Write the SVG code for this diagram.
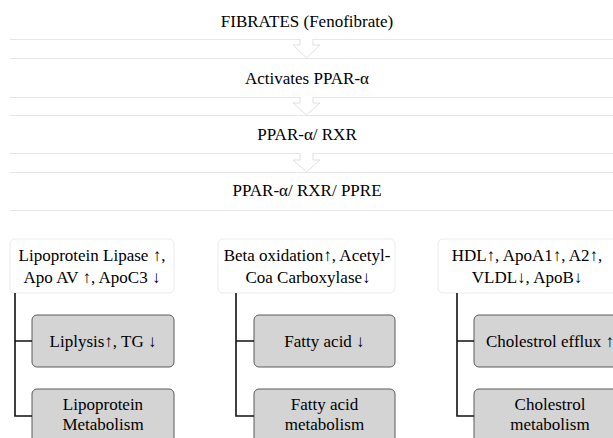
<svg xmlns="http://www.w3.org/2000/svg" width="613" height="438" viewBox="0 0 613 438">
<style>
text{font-family:"Liberation Serif","Times New Roman",serif;font-size:17px;fill:#000;text-anchor:middle}
.band{fill:none;stroke:#e6e6e6;stroke-width:1}
.arrow{fill:#fff;stroke:#e0e0e0;stroke-width:1}
.wbox{fill:#fff;stroke:#ebebeb;stroke-width:1}
.gbox{fill:#d4d4d4;stroke:#5a5a5a;stroke-width:1}
.conn{fill:none;stroke:#111;stroke-width:1.6}
</style>
<rect width="613" height="438" fill="#fff"/>
<g id="n1"><path class="band" d="M10,39.5 H613"/><text x="307" y="27">FIBRATES (Fenofibrate)</text></g>
<g id="n2"><path class="band" d="M10,58.5 H613 M10,97.5 H613"/><text x="307" y="84">Activates PPAR-α</text></g>
<g id="n3"><path class="band" d="M10,115.5 H613 M10,153.5 H613"/><text x="307" y="140">PPAR-α/ RXR</text></g>
<g id="n4"><path class="band" d="M10,172.5 H613 M10,210.5 H613"/><text x="307" y="196">PPAR-α/ RXR/ PPRE</text></g>
<g id="arrows">
<path class="arrow" d="M300,39 V45 H293 L306.5,58 L320,45 H313 V39"/>
<path class="arrow" d="M300,97 V103 H293 L306.5,115 L320,103 H313 V97"/>
<path class="arrow" d="M300,153 V160 H293 L306.5,172 L320,160 H313 V153"/>
</g>
<g id="n5"><rect class="wbox" x="10" y="239" width="164" height="54" rx="5"/><text x="92" y="261">Lipoprotein Lipase ↑,</text><text x="92" y="283">Apo AV ↑, ApoC3 ↓</text></g>
<g id="n6"><rect class="wbox" x="218" y="239" width="177" height="54" rx="5"/><text x="307" y="261">Beta oxidation↑, Acetyl-</text><text x="308" y="283">Coa Carboxylase↓</text></g>
<g id="n7"><rect class="wbox" x="438" y="239" width="190" height="54" rx="5"/><text x="527" y="261">HDL↑, ApoA1↑, A2↑,</text><text x="527" y="283">VLDL↓, ApoB↓</text></g>
<g id="n8"><rect class="gbox" x="32" y="315" width="142" height="52" rx="5"/><text x="103" y="347">Liplysis↑, TG ↓</text></g>
<g id="n9"><rect class="gbox" x="32" y="389" width="142" height="60" rx="5"/><text x="103" y="410">Lipoprotein</text><text x="103" y="430">Metabolism</text></g>
<g id="n10"><rect class="gbox" x="254" y="315" width="141" height="52" rx="5"/><text x="324.5" y="347">Fatty acid ↓</text></g>
<g id="n11"><rect class="gbox" x="254" y="389" width="141" height="60" rx="5"/><text x="324.5" y="410">Fatty acid</text><text x="324.5" y="430">metabolism</text></g>
<g id="n12"><rect class="gbox" x="474" y="315" width="152" height="52" rx="5"/><text x="550" y="347">Cholestrol efflux ↑</text></g>
<g id="n13"><rect class="gbox" x="474" y="389" width="152" height="60" rx="5"/><text x="550" y="410">Cholestrol</text><text x="550" y="430">metabolism</text></g>
<g id="connectors">
<path class="conn" d="M15,293 V416 H32 M15,341 H32"/>
<path class="conn" d="M236,293 V416 H254 M236,341 H254"/>
<path class="conn" d="M457,293 V416 H474 M457,341 H474"/>
</g>
</svg>
